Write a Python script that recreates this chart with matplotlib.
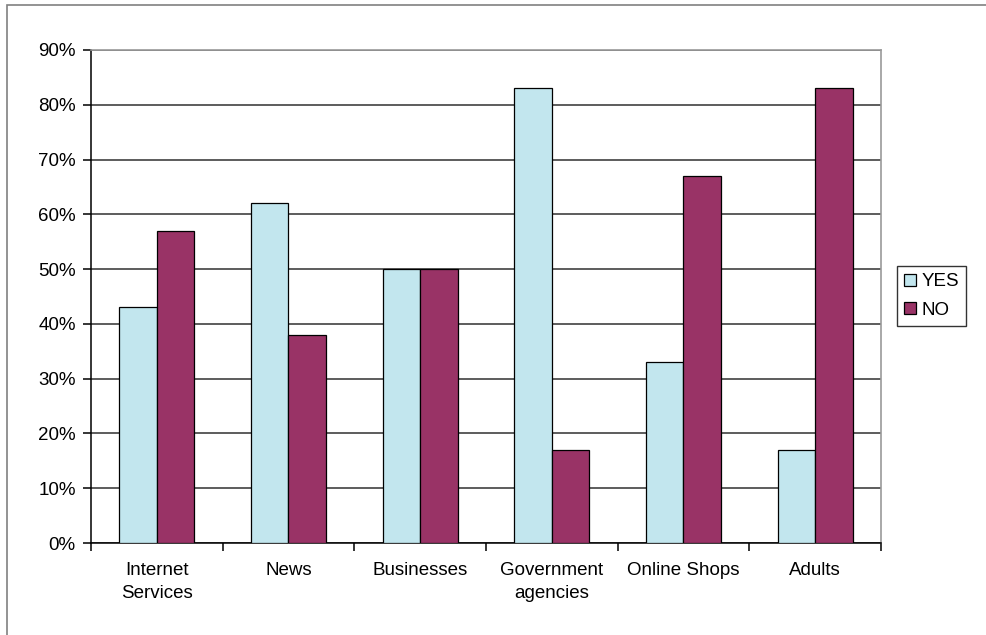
import numpy as np
import matplotlib
matplotlib.use("Agg")
import matplotlib.pyplot as plt
from matplotlib.patches import Rectangle
from matplotlib.ticker import PercentFormatter

plt.rcParams['font.family'] = ['Liberation Sans', 'DejaVu Sans']

categories = ["Internet\nServices", "News", "Businesses", "Government\nagencies", "Online Shops", "Adults"]
yes_vals = [43, 62, 50, 83, 33, 17]
no_vals = [57, 38, 50, 17, 67, 83]

fig = plt.figure(figsize=(9.87, 6.35), dpi=100, facecolor='white')

# thin grey frame round the chart area
fig.add_artist(Rectangle((7 / 987, -0.1), 1.2, 1 - 5 / 635 + 0.1, transform=fig.transFigure,
                         fill=False, edgecolor='#808080', lw=1.2))

ax = fig.add_axes([91 / 987, 1 - 543 / 635, 790 / 987, 493 / 635])

x = np.arange(len(categories))
w = 1 / 3.5  # Excel gap width 150%
ax.bar(x - w / 2, yes_vals, w, color='#C2E6EE', edgecolor='black', lw=0.9, label='YES', zorder=3)
ax.bar(x + w / 2, no_vals, w, color='#993366', edgecolor='black', lw=0.9, label='NO', zorder=3)

ax.set_xlim(-0.5, len(categories) - 0.5)
ax.set_ylim(0, 90)
ax.set_yticks(np.arange(0, 91, 10))
ax.yaxis.set_major_formatter(PercentFormatter(decimals=0))
ax.grid(axis='y', color='#303030', lw=1.1, zorder=1)

# category labels between boundary ticks
ax.set_xticks(np.arange(len(categories) + 1) - 0.5)
ax.set_xticklabels([])
ax.set_xticks(x, minor=True)
ax.set_xticklabels(categories, minor=True, fontsize=13.5, linespacing=1.45)
ax.tick_params(axis='x', which='minor', length=0, pad=14)
ax.tick_params(axis='x', which='major', length=6, width=1.1, direction='out', color='black')
ax.tick_params(axis='y', length=6, width=1.1, direction='out', labelsize=13.5, pad=5, color='black')

for s in ['top', 'right']:
    ax.spines[s].set_color('#9a9a9a')
    ax.spines[s].set_linewidth(1.2)
for s in ['left', 'bottom']:
    ax.spines[s].set_color('black')
    ax.spines[s].set_linewidth(1.1)

leg = fig.legend(loc='center left', bbox_to_anchor=(897 / 987, 1 - 296 / 635),
                 frameon=True, fancybox=False, edgecolor='black', fontsize=13.5,
                 handlelength=0.6, handleheight=0.6, handletextpad=0.3,
                 borderpad=0.4, labelspacing=0.6, borderaxespad=0)
leg.get_frame().set_linewidth(1.0)

fig.savefig("out.png", dpi=100, facecolor='white')
